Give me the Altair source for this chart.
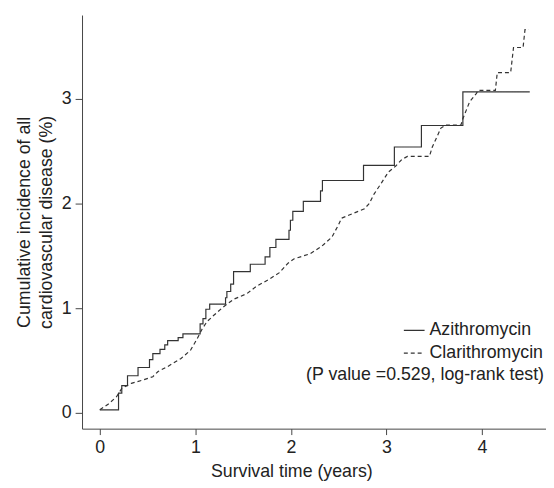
import altair as alt
import pandas as pd

# Azithromycin (solid, step function)
azi_t = [0.0, 0.196, 0.23, 0.29, 0.40, 0.52, 0.555, 0.63, 0.68, 0.71, 0.82, 0.87,
         1.05, 1.08, 1.11, 1.15, 1.316, 1.33, 1.37, 1.40, 1.575, 1.73, 1.78, 1.843,
         1.98, 1.995, 2.02, 2.13, 2.31, 2.33, 2.76, 3.083, 3.366, 3.80, 4.50]
azi_y = [0.03, 0.19, 0.26, 0.355, 0.434, 0.51, 0.566, 0.607, 0.65, 0.69, 0.72, 0.755,
         0.85, 0.90, 0.99, 1.04, 1.10, 1.16, 1.23, 1.35, 1.42, 1.49, 1.58, 1.657,
         1.745, 1.84, 1.925, 2.02, 2.12, 2.22, 2.365, 2.54, 2.745, 3.066, 3.066]

# Clarithromycin (dashed)
cla_t = [0.0, 0.09, 0.175, 0.23, 0.33, 0.45, 0.555, 0.61, 0.71, 0.85, 0.95, 1.02,
         1.07, 1.12, 1.19, 1.29, 1.40, 1.54, 1.64, 1.76, 1.88, 1.97, 2.03, 2.20,
         2.32, 2.43, 2.50, 2.53, 2.61, 2.77, 2.82, 2.87, 2.95, 3.02, 3.10, 3.16,
         3.22, 3.45, 3.48, 3.53, 3.57, 3.62, 3.78, 3.80, 3.87, 3.94, 3.96, 4.14,
         4.16, 4.30, 4.33, 4.43, 4.45, 4.49]
cla_y = [0.03, 0.085, 0.155, 0.235, 0.283, 0.314, 0.346, 0.396, 0.443, 0.52, 0.60, 0.71,
         0.80, 0.87, 0.93, 1.01, 1.085, 1.14, 1.21, 1.27, 1.34, 1.43, 1.47, 1.52,
         1.59, 1.68, 1.80, 1.86, 1.89, 1.95, 2.00, 2.09, 2.20, 2.30, 2.36, 2.42,
         2.45, 2.45, 2.54, 2.64, 2.72, 2.75, 2.75, 2.81, 2.97, 3.05, 3.08, 3.08,
         3.25, 3.25, 3.49, 3.49, 3.66, 3.66]

groups = ["Azithromycin", "Clarithromycin"]
p_text = ["(P value =0.529, log-rank test)"]
x_ticks = [0, 1, 2, 3, 4]
y_ticks = [0, 1, 2, 3]

df_a = pd.DataFrame({"t": azi_t, "y": azi_y, "group": groups[0]})
df_c = pd.DataFrame({"t": cla_t, "y": cla_y, "group": groups[1]})
df_p = pd.DataFrame({"label": p_text})

FONT = "Liberation Sans"
INK = "#333333"

x_scale = alt.Scale(domain=[-0.186, 4.67], nice=False, zero=False)
y_scale = alt.Scale(domain=[-0.15, 3.80], nice=False, zero=False)
dash_scale = alt.Scale(domain=groups, range=[[1, 0], [4, 3]])

x_enc = alt.X("t:Q", scale=x_scale,
              axis=alt.Axis(title="Survival time (years)", values=x_ticks, format="d"))
y_enc = alt.Y("y:Q", scale=y_scale,
              axis=alt.Axis(title=["Cumulative incidence of all", "cardiovascular disease (%)"],
                            values=y_ticks, format="d"))
dash_enc = alt.StrokeDash("group:N", scale=dash_scale,
                          legend=alt.Legend(title=None, orient="none", legendX=325, legendY=308,
                                            symbolType="stroke", symbolSize=441,
                                            symbolStrokeWidth=1.2, symbolStrokeColor=INK,
                                            labelFontSize=18, labelFont=FONT, labelColor="#222222",
                                            rowPadding=2, padding=0))

line_a = alt.Chart(df_a).mark_line(interpolate="step-after", color=INK, strokeWidth=1.2).encode(
    x=x_enc, y=y_enc, strokeDash=dash_enc)
line_c = alt.Chart(df_c).mark_line(interpolate="linear", color=INK, strokeWidth=1.2).encode(
    x=x_enc, y=y_enc, strokeDash=dash_enc)

ptext = alt.Chart(df_p).mark_text(align="right", baseline="middle", fontSize=18, font=FONT,
                                  color="#222222").encode(
    x=alt.value(468), y=alt.value(365), text="label:N")

chart = (line_a + line_c + ptext).properties(
    width=470, height=419,
    autosize=alt.AutoSizeParams(type="none"),
    padding={"left": 75, "top": 4, "right": 0, "bottom": 57},
).configure_view(stroke=None).configure_axis(
    grid=False, domainColor="#444444", tickColor="#444444", domainWidth=1, tickWidth=1,
    tickSize=6, labelFontSize=18, labelFont=FONT, labelColor="#222222",
    titleFontSize=18, titleFont=FONT, titleColor="#222222", titleFontWeight="normal",
    labelPadding=4
).configure_axisY(titleLineHeight=22, titlePadding=6, labelPadding=4, tickSize=7
).configure_axisX(titlePadding=6, titleX=212)

chart.save("out.html", embed_options={"renderer": "svg", "actions": False})
